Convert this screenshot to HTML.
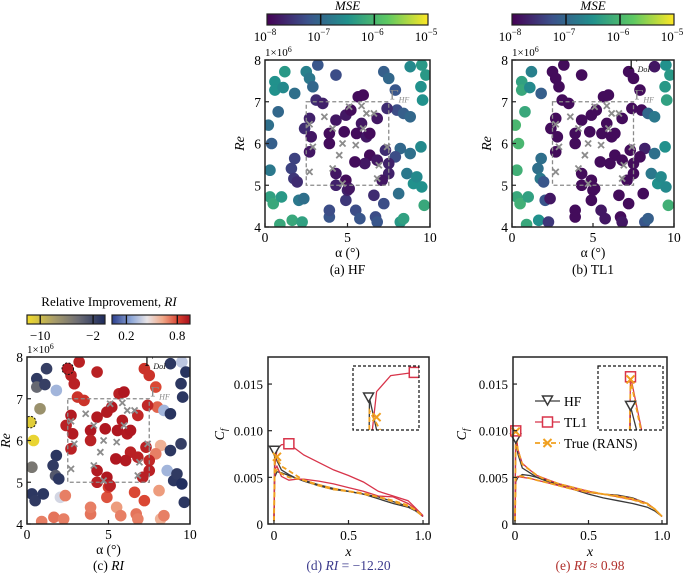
<!DOCTYPE html>
<html><head><meta charset="utf-8"><style>
html,body{margin:0;padding:0;background:#fff;overflow:hidden}
svg{display:block;font-family:"Liberation Serif",serif}
</style></head><body>
<svg id="fig" width="685" height="580" viewBox="0 0 685 580" xmlns="http://www.w3.org/2000/svg">
<defs>
<linearGradient id="viridis" x1="0" x2="1" y1="0" y2="0">
<stop offset="0" stop-color="#440154"/><stop offset="0.25" stop-color="#3b528b"/><stop offset="0.5" stop-color="#21918c"/><stop offset="0.75" stop-color="#5ec962"/><stop offset="1" stop-color="#fde725"/>
</linearGradient>
<linearGradient id="negcm" x1="0" x2="1" y1="0" y2="0">
<stop offset="0" stop-color="#f2dc2a"/><stop offset="0.35" stop-color="#a89c6a"/><stop offset="0.65" stop-color="#6e6e74"/><stop offset="1" stop-color="#1c2a5c"/>
</linearGradient>
<linearGradient id="poscm" x1="0" x2="1" y1="0" y2="0">
<stop offset="0" stop-color="#2b3f8e"/><stop offset="0.25" stop-color="#8fa8d8"/><stop offset="0.45" stop-color="#e8e4e6"/><stop offset="0.65" stop-color="#f0a888"/><stop offset="0.85" stop-color="#d8402e"/><stop offset="1" stop-color="#a8101e"/>
</linearGradient>
<clipPath id="clipA"><rect x="265" y="60" width="165" height="167"/></clipPath>
<clipPath id="clipB"><rect x="512" y="60" width="162" height="167"/></clipPath>
<clipPath id="clipC"><rect x="27" y="357" width="163" height="167"/></clipPath>
<clipPath id="clipInD"><rect x="353" y="366" width="66" height="64"/></clipPath>
<clipPath id="clipInE"><rect x="598" y="366" width="65" height="64"/></clipPath>
</defs>
<g id="root"></g>
</svg>
<script>
// ---------- scatter data
const sampleAlpha = [1.2,0.6,0.6,1.1,2.5,2.7,3.2,2.9,1.8,0.2,0.8,0.4,0.3,1.8,1.6,1.75,1.95,0.3,0.5,1.0,2.05,2.35,0.9,1.65,2.25,3.9,3.9,4.9,5.0,5.5,5.75,6.6,6.7,6.8,7.2,8.1,8.2,8.4,8.6,9.0,9.2,9.5,9.65,8.2,8.8,9.45,7.9,8.0,8.4,8.8,7.9,7.2,7.5,8.8,9.5,9.75,9.45,9.55,4.3,3.1,3.5,
 2.7,2.4,2.8,2.7,3.9,4.3,3.9,4.8,4.9,5.2,5.65,5.95,5.85,5.55,6.15,6.35,6.8,6.35,6.05,5.45,6.8,7.5,7.5,7.1,4.9,5.1,4.3,4.3,7.4,7.3];
const sampleRe = [7.72,7.48,7.28,7.34,7.72,7.56,7.88,7.36,7.2,6.44,6.76,6.0,5.36,5.64,5.4,5.16,5.08,4.72,4.56,4.72,4.64,4.68,4.06,4.16,4.12,4.24,4.4,4.64,4.88,4.4,4.2,4.76,4.24,4.12,4.56,4.8,4.12,4.2,5.28,5.04,5.2,4.96,4.52,5.88,5.76,5.92,5.68,6.8,6.72,6.64,7.28,7.72,7.56,7.84,7.88,7.64,7.36,7.04,7.64,7.04,6.96,
 6.6,6.36,6.16,5.8,6.24,6.56,6.0,6.28,6.68,6.8,7.12,7.16,6.48,6.24,6.16,6.24,6.6,5.72,5.52,5.56,5.6,5.52,5.28,5.12,5.12,4.92,5.28,5.0,6.84,5.84];
const mseHF = [-6.4,-6.5,-6.5,-6.6,-6.7,-6.8,-7.2,-7.0,-6.9,-6.9,-7.0,-7.1,-6.8,-7.4,-7.4,-7.5,-7.6,-6.3,-6.2,-6.4,-6.8,-6.9,-6.2,-6.2,-6.3,-7.2,-7.3,-7.5,-7.7,-7.3,-7.2,-7.6,-7.3,-7.2,-7.3,-6.9,-6.4,-6.3,-6.8,-6.5,-6.6,-6.5,-6.2,-7.0,-6.9,-6.6,-7.3,-7.3,-7.1,-7.0,-7.2,-7.1,-7.0,-6.6,-6.4,-6.4,-6.5,-6.5,-7.3,-7.6,-7.7,
 -7.7,-7.6,-7.8,-7.8,-7.9,-7.8,-7.9,-7.9,-7.8,-7.9,-7.9,-7.9,-7.8,-7.9,-7.8,-7.9,-7.8,-7.9,-7.8,-7.9,-7.8,-7.7,-7.7,-7.8,-7.9,-7.8,-7.8,-7.7,-7.6,-7.6];
const mseTL1 = [-6.7,-6.3,-6.2,-6.6,-7.9,-7.9,-7.9,-7.9,-7.1,-6.0,-6.2,-6.0,-6.1,-6.9,-6.9,-6.8,-7.2,-6.2,-6.1,-6.3,-7.2,-7.8,-6.2,-6.5,-7.5,-7.9,-7.9,-7.9,-7.9,-7.8,-7.8,-7.9,-7.9,-7.8,-7.9,-7.9,-7.2,-7.1,-6.8,-6.5,-6.6,-6.6,-6.1,-7.7,-6.9,-6.5,-7.9,-7.9,-7.0,-6.8,-7.9,-7.9,-7.9,-7.8,-6.5,-6.4,-6.4,-6.3,-7.9,-7.9,-7.9,
 -7.9,-7.9,-7.9,-7.9,-7.9,-7.9,-7.9,-7.9,-7.9,-7.9,-7.9,-7.9,-7.9,-7.9,-7.9,-7.9,-7.9,-7.9,-7.9,-7.9,-7.9,-7.9,-7.9,-7.9,-7.9,-7.9,-7.9,-7.9,-7.9,-7.9];
const relImp = [-1.5,-1.2,-4,-1.5,0.92,0.9,0.9,0.9,0.3,-11,-7,-11.5,-5,-1,-1.2,-3,-1,-1,-1.2,-1,0.4,0.7,0.7,0.72,0.7,0.72,0.7,0.78,0.82,0.65,0.7,0.8,0.72,0.7,0.8,0.65,0.6,0.7,0.3,-1,-1.2,-0.5,-1,0.6,-1,-1.5,0.7,0.75,0.3,-0.8,0.8,0.85,0.85,-1,0.35,-0.8,-1,-1,0.9,0.85,0.85,
 0.92,0.9,0.92,0.9,0.93,0.92,0.9,0.93,0.92,0.92,0.9,0.93,0.92,0.93,0.92,0.93,0.88,0.9,0.92,0.93,0.9,0.88,0.9,0.9,0.93,0.9,0.92,0.9,0.88,0.9];
const trainAlpha = [2.7,3.6,2.9,4.1,4.5,4.7,5.5,5.1,5.85,6.15,6.6,5.95,7.4,2.7,4.1,4.7,6.9,6.8];
const trainRe = [6.46,6.64,5.92,6.36,5.72,6.0,5.96,6.88,6.9,6.72,6.72,6.36,5.92,5.32,5.4,5.04,5.48,5.16];
const highlightAlpha = [2.5,0.2];
const highlightRe = [7.72,6.44];

// ---------- Cf curve data
const cfX = [0,0.005,0.02,0.05,0.1,0.15,0.2,0.3,0.4,0.5,0.6,0.7,0.8,0.9,0.95,1.0];
const dHFup = [0.0008,0.0078,0.0068,0.0058,0.0053,0.0049,0.0046,0.0041,0.0037,0.0035,0.0032,0.0027,0.0022,0.0018,0.0014,0.0008];
const dHFlo = [0.0008,0.0050,0.0056,0.0055,0.0052,0.0049,0.0047,0.0042,0.0038,0.0035,0.0032,0.0029,0.0024,0.0019,0.0015,0.0008];
const dTLup = [0.0008,0.0060,0.0080,0.0085,0.0086,0.0080,0.0074,0.0066,0.0058,0.0052,0.0045,0.0035,0.0030,0.0025,0.0017,0.0009];
const dTLlo = [0.0008,0.0058,0.0062,0.0051,0.0047,0.0048,0.0048,0.0046,0.0043,0.0039,0.0035,0.0030,0.0029,0.0022,0.0016,0.0008];
const dTRup = [0.0003,0.0074,0.0070,0.0062,0.0057,0.0052,0.0047,0.0041,0.0037,0.0035,0.0033,0.0029,0.0025,0.0020,0.0015,0.0008];
const dTRlo = [0.0003,0.0055,0.0058,0.0054,0.0050,0.0049,0.0047,0.0042,0.0038,0.0035,0.0032,0.0029,0.0024,0.0019,0.0015,0.0008];
const eHFup = [0.0008,0.0091,0.0075,0.0060,0.0055,0.0050,0.0047,0.0042,0.0037,0.0032,0.0028,0.0025,0.0022,0.0018,0.0014,0.0008];
const eHFlo = [0.0008,0.0045,0.0050,0.0053,0.0052,0.0050,0.0048,0.0043,0.0039,0.0034,0.0032,0.0031,0.0028,0.0022,0.0016,0.0008];
const eTLup = [0.0008,0.0100,0.0080,0.0065,0.0058,0.0052,0.0049,0.0043,0.0039,0.0035,0.0032,0.0029,0.0026,0.0022,0.0016,0.0008];
const eTLlo = [0.0008,0.0048,0.0051,0.0050,0.0049,0.0047,0.0045,0.0041,0.0037,0.0034,0.0032,0.0030,0.0027,0.0022,0.0016,0.0008];
const eTRup = [0.0003,0.0099,0.0079,0.0064,0.0058,0.0052,0.0048,0.0043,0.0039,0.0035,0.0032,0.0029,0.0026,0.0021,0.0016,0.0008];
const eTRlo = [0.0003,0.0049,0.0052,0.0051,0.0049,0.0047,0.0045,0.0041,0.0037,0.0034,0.0032,0.0030,0.0027,0.0022,0.0016,0.0008];
const dMarkHF = [0.003,0.0078], dMarkTL = [0.1,0.0086], dMarkTR = [0.02,0.0072];
const eMarkHF = [0.005,0.0091], eMarkTL = [0.005,0.00998], eMarkTR = [0.005,0.0099];
const cfTicks = [0,0.005,0.010,0.015];
const cfTickLabels = ["0","0.005","0.010","0.015"];
const xTicks = [0,0.5,1.0];
const xTickLabels = ["0","0.5","1.0"];

const NS = "http://www.w3.org/2000/svg";
const root = document.getElementById('root');
function mk(tag, attrs, parent, text){
  const e = document.createElementNS(NS, tag);
  for (const k in attrs) e.setAttribute(k, attrs[k]);
  if (text !== undefined) e.textContent = text;
  (parent || root).appendChild(e);
  return e;
}
function lerpHex(a,b,t){
  const pa=[1,3,5].map(i=>parseInt(a.substr(i,2),16)), pb=[1,3,5].map(i=>parseInt(b.substr(i,2),16));
  return 'rgb('+pa.map((v,i)=>Math.round(v+(pb[i]-v)*t)).join(',')+')';
}
function cmap(stops, t){
  t=Math.max(0,Math.min(1,t));
  for(let i=0;i<stops.length-1;i++){
    if(t<=stops[i+1][0]){const s=(t-stops[i][0])/(stops[i+1][0]-stops[i][0]);return lerpHex(stops[i][1],stops[i+1][1],s);}
  }
  return stops[stops.length-1][1];
}
const VIR=[[0,'#440154'],[0.25,'#3b528b'],[0.5,'#21918c'],[0.75,'#5ec962'],[1,'#fde725']];
const NEG=[[0,'#f2dc2a'],[0.35,'#a89c6a'],[0.65,'#6e6e74'],[1,'#1c2a5c']];
const POS=[[0,'#2b3f8e'],[0.25,'#8fa8d8'],[0.45,'#e8e4e6'],[0.65,'#f0a888'],[0.85,'#d8402e'],[1,'#a8101e']];
function mseColor(v){return cmap(VIR,(v+8)/3);}
function riColor(v){ if(v<0) return cmap(NEG,(v+12)/11.8); return cmap(POS,(v-0.03)/0.92); }

function colorbarLog(x0,y0,w,h){
  const g = mk('g',{});
  
  
  mk('text',{x:x0+w/2,y:y0-4,'text-anchor':'middle','font-size':13,'font-style':'italic'},g,'MSE');
  mk('rect',{x:x0,y:y0,width:w,height:h,fill:'url(#viridis)',stroke:'#222','stroke-width':1.2},g);
  [-8,-7,-6,-5].forEach((p,i)=>{
    const x=x0+w*i/3;
    if(i>0&&i<3) mk('line',{x1:x,x2:x,y1:y0,y2:y0+h,stroke:'#111','stroke-width':1.5},g);
    const t=mk('text',{x:x-2,y:y0+h+16,'text-anchor':'middle','font-size':13},g,'10');
    const s=mk('tspan',{dy:-6,'font-size':9},t,'\u2212'+(-p));
    
    
  });
}
function gammaLabel(g,x,y,sub,color,name){
  const t=mk('text',{x:x,y:y,'font-size':13,fill:color},g);
  mk('tspan',{'font-family':'DejaVu Serif, Liberation Serif, serif'},t,'\u0393');
  mk('tspan',{dy:3,'font-size':8,'font-style':'italic'},t,sub);
  
  
}
function scatterPanel(bx,by,bw,bh,clip,colors,opts){
  const sx=a=>bx+a/10*bw, sy=r=>by+(8-r)/4*bh;
  const g=mk('g',{});
  
  
  const pts=mk('g',{'clip-path':'url(#'+clip+')'},g);
  for(let i=0;i<sampleAlpha.length;i++){
    const c=mk('circle',{cx:sx(sampleAlpha[i]),cy:sy(sampleRe[i]),r:5.8,fill:colors[i]},pts);
    
    
  }
  if(opts.highlight){
    for(let i=0;i<highlightAlpha.length;i++){
      const c=mk('circle',{cx:sx(highlightAlpha[i]),cy:sy(highlightRe[i]),r:5.8,fill:'none',stroke:'#111','stroke-width':1,'stroke-dasharray':'2,1.5'},pts);
      
      
    }
  }
  const dr=mk('rect',{x:sx(2.5),y:sy(7),width:sx(7.5)-sx(2.5),height:sy(5)-sy(7),fill:'none',stroke:'#8a8a8a','stroke-width':1.3,'stroke-dasharray':'4,2.5'},g);
  
  
  for(let i=0;i<trainAlpha.length;i++){
    const x=sx(trainAlpha[i]),y=sy(trainRe[i]);
    const m=mk('path',{d:`M${x-3},${y-3}L${x+3},${y+3}M${x-3},${y+3}L${x+3},${y-3}`,stroke:'#8c8c8c','stroke-width':1.8},g);
    
    
  }
  gammaLabel(g,sx(7.55),sy(7.05),'HF','#8a8a8a','gamma-hf-label');
  if(opts.doi) gammaLabel(g,sx(7.2),sy(7.78),'DoI','#111','gamma-doi-label');
  mk('rect',{x:bx,y:by,width:bw,height:bh,fill:'none',stroke:'#222','stroke-width':1.5},g);
  [0,5,10].forEach(v=>{
    mk('line',{x1:sx(v),x2:sx(v),y1:by+bh,y2:by+bh-4,stroke:'#222','stroke-width':1.2},g);
    mk('text',{x:sx(v),y:by+bh+15,'text-anchor':'middle','font-size':13.5},g,String(v));
  });
  [4,5,6,7,8].forEach(v=>{
    mk('line',{x1:bx,x2:bx+4,y1:sy(v),y2:sy(v),stroke:'#222','stroke-width':1.2},g);
    mk('text',{x:bx-4,y:sy(v)+5,'text-anchor':'end','font-size':13.5},g,String(v));
  });
  const m6=mk('text',{x:bx,y:by-4,'font-size':11},g,'1\u00d710');
  mk('tspan',{dy:-4,'font-size':8},m6,'6');
  const rx=Math.max(bx-21,10);
  mk('text',{x:0,y:0,'text-anchor':'middle','font-size':14,'font-style':'italic',transform:`translate(${rx} ${by+bh/2}) rotate(-90)`},g,'Re');
  mk('text',{x:bx+bw/2,y:by+bh+30,'text-anchor':'middle','font-size':13.5},g,'\u03b1 (\u00b0)');
  const cap=mk('text',{x:bx+bw/2,y:Math.min(by+bh+47,570),'text-anchor':'middle','font-size':13.5},g);
  cap.innerHTML=opts.caption;
}

colorbarLog(267,14,161,11);
colorbarLog(512,14,162,11);
scatterPanel(265,60,165,167,'clipA',mseHF.map(mseColor),{name:'panel-a-hf',caption:'(a) HF'});
scatterPanel(512,60,162,167,'clipB',mseTL1.map(mseColor),{name:'panel-b-tl1',caption:'(b) TL1',doi:true});

(function(){
  const g=mk('g',{});
  
  
  mk('text',{x:109,y:306,'text-anchor':'middle','font-size':13},g).innerHTML='Relative Improvement, <tspan font-style="italic">RI</tspan>';
  mk('rect',{x:27,y:315,width:78,height:9,fill:'url(#negcm)',stroke:'#222','stroke-width':1.2},g);
  mk('rect',{x:112,y:315,width:78,height:9,fill:'url(#poscm)',stroke:'#222','stroke-width':1.2},g);
  const negX=v=>27+(v+12)/11.8*78, posX=v=>112+(v-0.03)/0.92*78;
  [-10,-2].forEach(v=>{mk('line',{x1:negX(v),x2:negX(v),y1:315,y2:324,stroke:'#111','stroke-width':1.3},g);
    mk('text',{x:negX(v),y:340,'text-anchor':'middle','font-size':13},g,'\u2212'+(-v));});
  [0.2,0.8].forEach(v=>{mk('line',{x1:posX(v),x2:posX(v),y1:315,y2:324,stroke:'#111','stroke-width':1.3},g);
    mk('text',{x:posX(v),y:340,'text-anchor':'middle','font-size':13},g,String(v));});
})();
scatterPanel(27,357,163,167,'clipC',relImp.map(riColor),{name:'panel-c-ri',caption:'(c) <tspan font-style="italic">RI</tspan>',doi:true,highlight:true});

function marker(type,x,y,g,color){
  let e;
  if(type==='tri') e=mk('path',{d:`M${x-5},${y-5}L${x+5},${y-5}L${x},${y+4}Z`,fill:'#fff',stroke:color,'stroke-width':1.5},g);
  else if(type==='sq') e=mk('rect',{x:x-5,y:y-5,width:10,height:10,fill:'#fff',stroke:color,'stroke-width':1.5},g);
  else e=mk('path',{d:`M${x-4},${y-4}L${x+4},${y+4}M${x-4},${y+4}L${x+4},${y-4}`,stroke:color,'stroke-width':2},g);
  
  
}
function drawSeries(g,sx,sy,ys,color,dash,w){
  const d=cfX.map((x,i)=>(i?'L':'M')+sx(x).toFixed(1)+','+sy(ys[i]).toFixed(1)).join('');
  const p=mk('path',{d:d,fill:'none',stroke:color,'stroke-width':w||1.3,'stroke-dasharray':dash||'none'},g);
  
  
}
function cfPanel(o){
  const {bx,by,bw,bh,x0,x1,ymax}=o;
  const sx=x=>bx+(x-x0)/(x1-x0)*bw, sy=y=>by+bh-y/ymax*bh;
  const g=mk('g',{});
  
  
  const HF='#3a3a3a', TL='#d8344a', TR='#f0a020';
  const draw=(gg,fx,fy)=>{
    drawSeries(gg,fx,fy,o.hf[0],HF); drawSeries(gg,fx,fy,o.hf[1],HF);
    drawSeries(gg,fx,fy,o.tl[0],TL); drawSeries(gg,fx,fy,o.tl[1],TL);
    drawSeries(gg,fx,fy,o.tr[0],TR,'5,3',1.8); drawSeries(gg,fx,fy,o.tr[1],TR,'5,3',1.8);
  };
  draw(g,sx,sy);
  marker('tri',sx(o.mHF[0]),sy(o.mHF[1]),g,HF);
  marker('sq',sx(o.mTL[0]),sy(o.mTL[1]),g,TL);
  marker('x',sx(o.mTR[0]),sy(o.mTR[1]),g,TR);
  const ig=mk('g',{},g);
  
  
  mk('rect',{x:o.in.x,y:o.in.y,width:o.in.w,height:o.in.h,fill:'#fff'},ig);
  const isx=x=>o.in.x+(x-o.in.x0)/(o.in.x1-o.in.x0)*o.in.w, isy=y=>o.in.y+o.in.h-(y-o.in.y0)/(o.in.y1-o.in.y0)*o.in.h;
  const cg=mk('g',{'clip-path':'url(#'+o.in.clip+')'},ig);
  draw(cg,isx,isy);
  marker('tri',isx(o.mHF[0]),isy(o.mHF[1]),cg,HF);
  marker('sq',isx(o.mTL[0]),isy(o.mTL[1]),cg,TL);
  marker('x',isx(o.mTR[0]),isy(o.mTR[1]),cg,TR);
  mk('rect',{x:o.in.x,y:o.in.y,width:o.in.w,height:o.in.h,fill:'none',stroke:'#111','stroke-width':1.2,'stroke-dasharray':'3,2'},ig);
  mk('rect',{x:bx,y:by,width:bw,height:bh,fill:'none',stroke:'#222','stroke-width':1.5},g);
  xTicks.forEach((v,i)=>{
    mk('line',{x1:sx(v),x2:sx(v),y1:by+bh,y2:by+bh-4,stroke:'#222','stroke-width':1.2},g);
    mk('text',{x:sx(v),y:by+bh+16,'text-anchor':'middle','font-size':13.5},g,xTickLabels[i]);
  });
  cfTicks.forEach((v,i)=>{
    mk('line',{x1:bx,x2:bx+4,y1:sy(v),y2:sy(v),stroke:'#222','stroke-width':1.2},g);
    mk('text',{x:bx-5,y:sy(v)+5,'text-anchor':'end','font-size':13},g,cfTickLabels[i]);
  });
  const cy=by+bh/2-6;
  const cl=mk('text',{x:0,y:0,'text-anchor':'middle','font-size':14,'font-style':'italic',transform:`translate(${o.cfx} ${cy}) rotate(-90)`},g);
  mk('tspan',{},cl,'C');
  mk('tspan',{dy:3,'font-size':9},cl,'f');
  mk('text',{x:bx+bw/2,y:by+bh+32,'text-anchor':'middle','font-size':14,'font-style':'italic'},g,'x');
  const cap=mk('text',{x:bx+bw/2,y:570,'text-anchor':'middle','font-size':13.5,fill:o.capColor},g);
  cap.innerHTML=o.caption;
}
cfPanel({name:'panel-d-cf',bx:268,by:357,bw:161,bh:167,x0:-0.04,x1:1.04,ymax:0.0179,
  hf:[dHFup,dHFlo],tl:[dTLup,dTLlo],tr:[dTRup,dTRlo],mHF:dMarkHF,mTL:dMarkTL,mTR:dMarkTR,
  in:{x:353,y:366,w:66,h:64,x0:-0.03,x1:0.11,y0:0.0068,y1:0.0088,clip:'clipInD'},
  cfx:224,capColor:'#3b3a8c',caption:'(d) <tspan font-style="italic">RI</tspan> = \u221212.20'});
cfPanel({name:'panel-e-cf',bx:513,by:357,bw:154,bh:167,x0:-0.0136,x1:1.0340,ymax:0.0179,
  hf:[eHFup,eHFlo],tl:[eTLup,eTLlo],tr:[eTRup,eTRlo],mHF:eMarkHF,mTL:eMarkTL,mTR:eMarkTR,
  in:{x:598,y:366,w:65,h:64,x0:-0.03,x1:0.04,y0:0.0084,y1:0.0103,clip:'clipInE'},
  cfx:466,capColor:'#b0302c',caption:'(e) <tspan font-style="italic">RI</tspan> \u2248 0.98'});

(function(){
  const g=mk('g',{});
  
  
  const names=['HF','TL1','True (RANS)'], cols=['#3a3a3a','#d8344a','#f0a020'], types=['tri','sq','x'], ys=[401,422,443];
  names.forEach((n,i)=>{
    const e=mk('g',{},g);
    
    
    mk('line',{x1:535,x2:560,y1:ys[i],y2:ys[i],stroke:cols[i],'stroke-width':i===2?1.8:1.3,'stroke-dasharray':i===2?'5,3':'none'},e);
    marker(types[i],547.5,ys[i],e,cols[i]);
    mk('text',{x:564,y:ys[i]+5,'font-size':13.5},e,n);
  });
})();
</script>
</body></html>
